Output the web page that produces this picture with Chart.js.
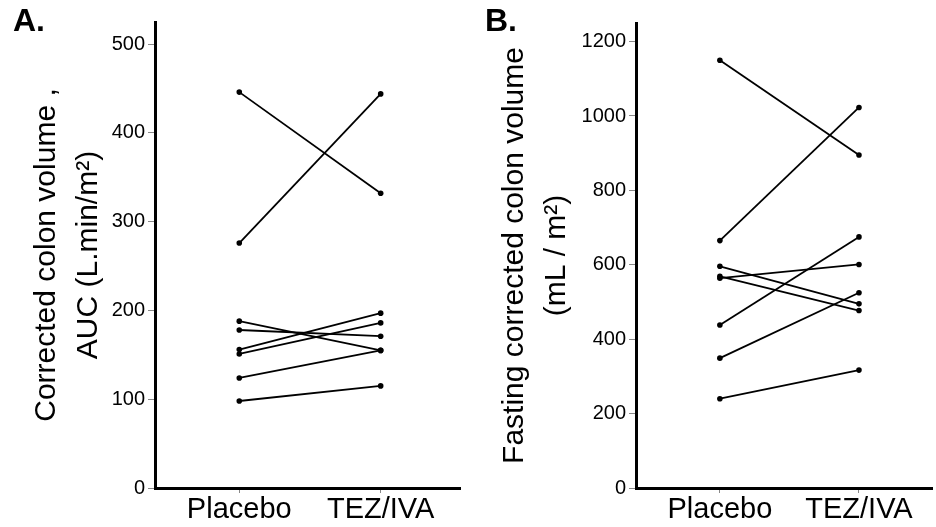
<!DOCTYPE html>
<html>
<head>
<meta charset="utf-8">
<script src="https://cdn.jsdelivr.net/npm/chart.js@4.4.1/dist/chart.umd.min.js"></script>
<style>
  body { margin: 0; background: #fff; }
  #wrap { position: relative; width: 936px; height: 527px; overflow: hidden; }
  canvas { position: absolute; top: 0; }
  .panel { position: absolute; top: 4px; font: bold 32px Arial, "Liberation Sans", sans-serif; line-height: 32px; color: #000; }
</style>
</head>
<body>
<div id="wrap">
  <canvas id="chartA" width="468" height="527" style="left:0"></canvas>
  <canvas id="chartB" width="468" height="527" style="left:468px"></canvas>
  <div class="panel" style="left:13px">A.</div>
  <div class="panel" style="left:485px">B.</div>
</div>
<script>
// values, one entry per subject (placebo -> TEZ/IVA)
const categories = ['Placebo', 'TEZ/IVA'];
const placeboA = [446, 276, 188, 178, 156, 151, 124, 98];
const tezivaA = [332, 444, 155, 171, 197, 186, 155, 115];
const placeboB = [1150, 665, 596, 569, 564, 438, 349, 240];
const tezivaB = [895, 1023, 495, 477, 601, 675, 525, 317];
const ticksA = [0, 100, 200, 300, 400, 500];
const ticksB = [0, 200, 400, 600, 800, 1000, 1200];
const titleA = ['Corrected colon volume ,', 'AUC (L.min/m²)'];
const titleB = ['Fasting corrected colon volume', '(mL / m²)'];

const FONT = 'Arial, "Liberation Sans", sans-serif';

function makeChart(id, placebo, teziva, yTicks, yMax, yTitle, yWidth, xMin, xMax, pad) {
    const datasets = placebo.map((p, i) => ({
        data: [{ x: 0, y: p }, { x: 1, y: teziva[i] }],
        borderColor: '#000',
        backgroundColor: '#000',
        borderWidth: 1.8,
        pointRadius: 2.8,
        pointBorderWidth: 0,
        showLine: true
    }));

    return new Chart(document.getElementById(id), {
        type: 'scatter',
        data: { datasets: datasets },
        options: {
            responsive: false,
            animation: false,
            devicePixelRatio: 1,
            layout: { padding: pad },
            plugins: { legend: { display: false }, tooltip: { enabled: false } },
            scales: {
                x: {
                    type: 'linear',
                    min: xMin,
                    max: xMax,
                    afterBuildTicks: s => { s.ticks = categories.map((c, i) => ({ value: i })); },
                    afterFit: s => { s.height = 39; },
                    ticks: {
                        callback: v => categories[v],
                        color: '#000',
                        font: { family: FONT, size: 29 },
                        padding: 0,
                        maxRotation: 0,
                        autoSkip: false
                    },
                    grid: { drawOnChartArea: false, color: '#888', tickLength: 5 },
                    border: { color: '#000', width: 3 }
                },
                y: {
                    type: 'linear',
                    min: 0,
                    max: yMax,
                    afterBuildTicks: s => { s.ticks = yTicks.map(v => ({ value: v })); },
                    afterFit: s => { s.width = yWidth; },
                    ticks: {
                        callback: v => String(v),
                        color: '#000',
                        font: { family: FONT, size: 20 },
                        padding: 3
                    },
                    grid: { drawOnChartArea: false, color: '#888', tickLength: 7 },
                    border: { color: '#000', width: 3 },
                    title: {
                        display: true,
                        text: yTitle,
                        color: '#000',
                        font: { family: FONT, size: 30, lineHeight: 1.4 },
                        padding: { top: 26, bottom: 0 }
                    }
                }
            }
        }
    });
}

makeChart('chartA', placeboA, tezivaA, ticksA, 525, titleA, 155, -0.596, 1.561,
    { top: 22, right: 8, bottom: 0, left: 0 });
makeChart('chartB', placeboB, tezivaB, ticksB, 1250, titleB, 168, -0.603, 1.525,
    { top: 23, right: 0, bottom: 0, left: 0 });
</script>
</body>
</html>
